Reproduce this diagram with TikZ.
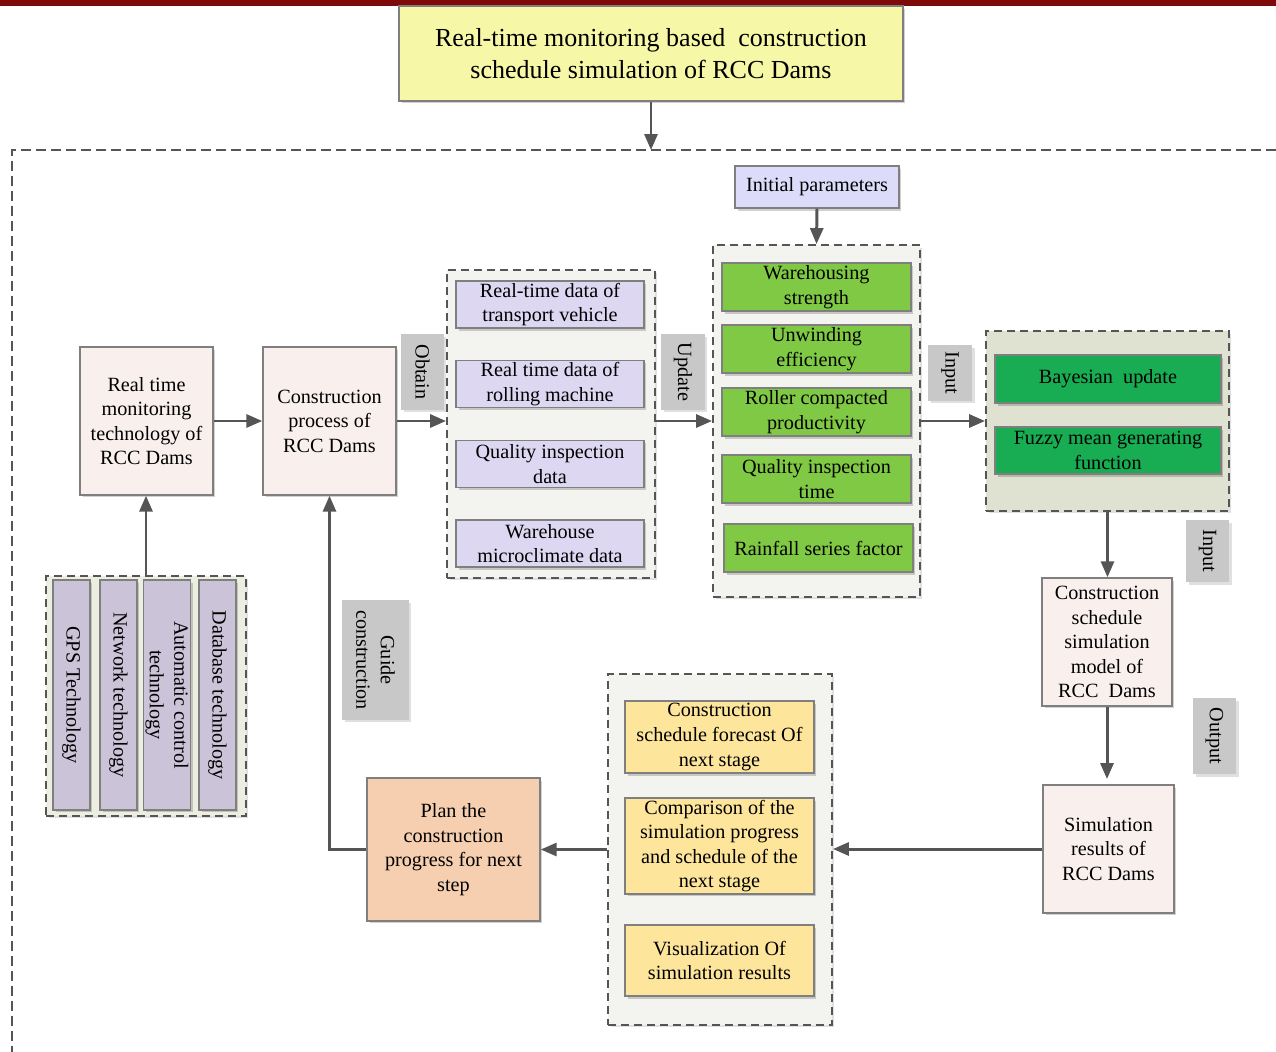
\documentclass[tikz,border=0pt]{standalone}
\usepackage{fontspec}
\setmainfont{Liberation Serif}
\usetikzlibrary{arrows.meta,shadows}
\definecolor{topred}{HTML}{7F0A0A}
\definecolor{boxline}{HTML}{7F7F7F}
\definecolor{arrowgray}{HTML}{555555}
\definecolor{titlefill}{HTML}{F7F7A8}
\definecolor{pinkfill}{HTML}{F9F0EE}
\definecolor{lavfill}{HTML}{DDD7F2}
\definecolor{barfill}{HTML}{CBC3D8}
\definecolor{grpfill}{HTML}{F3F3EF}
\definecolor{techgrpfill}{HTML}{ECEEE2}
\definecolor{baygrpfill}{HTML}{DFE2D0}
\definecolor{lgreen}{HTML}{80C944}
\definecolor{dgreen}{HTML}{18AD52}
\definecolor{yelfill}{HTML}{FDE59C}
\definecolor{peachfill}{HTML}{F6CFB0}
\definecolor{initfill}{HTML}{DCDCFA}
\definecolor{taggray}{HTML}{C8C8C8}

\begin{document}
\begin{tikzpicture}[x=0.02cm,y=-0.02cm,
  box/.style={draw=boxline, line width=0.8pt, align=center, inner sep=1pt,
    font=\fontsize{11.5}{14}\selectfont,
    drop shadow={shadow xshift=0.05cm, shadow yshift=-0.05cm, fill=black, opacity=0.18}},
  grp/.style={draw=arrowgray, dash pattern=on 0.16cm off 0.1cm, line width=1.1pt,
    drop shadow={shadow xshift=0.05cm, shadow yshift=-0.05cm, fill=black, opacity=0.12}},
  tag/.style={fill=taggray, rotate=-90, align=center, inner sep=1pt,
    font=\fontsize{11.5}{14}\selectfont,
    drop shadow={shadow xshift=0.05cm, shadow yshift=-0.05cm, fill=black, opacity=0.12}},
  arr/.style={draw=arrowgray, line width=1.7pt, -{Triangle[length=0.32cm,width=0.26cm]}}]
\useasboundingbox (0,0) rectangle (1276,1052);
\fill[topred] (0,0) rectangle (1276,6);
\draw[arrowgray, line width=0.9pt, dash pattern=on 0.2cm off 0.1cm] (1276,150) -- (12,150) -- (12,1052);
\coordinate (frametop) at (651,150);

\node[box, fill=titlefill, minimum width=10.08cm, minimum height=1.9cm, font=\fontsize{14.8}{18.5}\selectfont]
  (title) at (651,53.5) {Real-time monitoring based\ \ construction\\schedule simulation of RCC Dams};

\node[box, fill=pinkfill, minimum width=2.66cm, minimum height=2.96cm] (rtm) at (146.5,421)
  {Real time\\monitoring\\technology of\\RCC Dams};
\node[box, fill=pinkfill, minimum width=2.66cm, minimum height=2.96cm] (cproc) at (329.5,421)
  {Construction\\process of\\RCC Dams};
\node[tag, minimum width=1.52cm, minimum height=0.86cm] (obtain) at (422.5,372) {Obtain};

\node[grp, fill=techgrpfill, minimum width=4.0cm, minimum height=4.8cm] (techgrp) at (146,696) {};
\node[box, fill=barfill, rotate=-90, minimum width=4.6cm, minimum height=0.74cm] (gps) at (71.5,695) {GPS Technology};
\node[box, fill=barfill, rotate=-90, minimum width=4.6cm, minimum height=0.74cm] (net) at (118.5,695) {Network technology};
\node[box, fill=barfill, rotate=-90, minimum width=4.6cm, minimum height=0.84cm] (auto) at (167,695) {Automatic control\\technology};
\node[box, fill=barfill, rotate=-90, minimum width=4.6cm, minimum height=0.74cm] (dbase) at (217.5,695) {Database technology};

\node[grp, fill=grpfill, minimum width=4.16cm, minimum height=6.16cm] (datagrp) at (551,424) {};
\node[box, fill=lavfill, minimum width=3.76cm, minimum height=0.94cm] (vehicle) at (550,304.5) {Real-time data of\\transport vehicle};
\node[box, fill=lavfill, minimum width=3.76cm, minimum height=0.94cm] (roller) at (550,384) {Real time data of\\rolling machine};
\node[box, fill=lavfill, minimum width=3.76cm, minimum height=0.94cm] (qdata) at (550,464) {Quality inspection\\data};
\node[box, fill=lavfill, minimum width=3.76cm, minimum height=0.94cm] (micro) at (550,543.5) {Warehouse\\microclimate data};
\node[tag, minimum width=1.52cm, minimum height=0.88cm] (update) at (683,372) {Update};

\node[box, fill=initfill, minimum width=3.28cm, minimum height=0.84cm] (init) at (817,187) {Initial parameters};
\node[grp, fill=grpfill, minimum width=4.14cm, minimum height=7.04cm] (pargrp) at (816.5,421) {};
\node[box, fill=lgreen, minimum width=3.78cm, minimum height=0.96cm] (strength) at (816.5,287) {Warehousing\\strength};
\node[box, fill=lgreen, minimum width=3.78cm, minimum height=0.96cm] (unwind) at (816.5,349) {Unwinding\\efficiency};
\node[box, fill=lgreen, minimum width=3.78cm, minimum height=0.96cm] (product) at (816.5,412) {Roller compacted\\productivity};
\node[box, fill=lgreen, minimum width=3.78cm, minimum height=0.96cm] (qtime) at (816.5,479) {Quality inspection\\time};
\node[box, fill=lgreen, minimum width=3.78cm, minimum height=0.96cm] (rain) at (818.5,548) {Rainfall series factor};
\node[tag, minimum width=1.12cm, minimum height=0.88cm] (input) at (950,373) {Input};

\node[grp, fill=baygrpfill, minimum width=4.86cm, minimum height=3.6cm] (baygrp) at (1107.5,421) {};
\node[box, fill=dgreen, minimum width=4.52cm, minimum height=0.96cm] (bayes) at (1108,379) {Bayesian\ \ update};
\node[box, fill=dgreen, minimum width=4.52cm, minimum height=0.94cm] (fuzzy) at (1108,450.5) {Fuzzy mean generating\\function};
\node[tag, minimum width=1.24cm, minimum height=0.86cm] (input2) at (1207.5,551) {Input};

\node[box, fill=pinkfill, minimum width=2.6cm, minimum height=2.56cm] (model) at (1107,642)
  {Construction\\schedule\\simulation\\model of\\RCC\ \ Dams};
\node[tag, minimum width=1.52cm, minimum height=0.86cm] (output) at (1214.5,736) {Output};
\node[box, fill=pinkfill, minimum width=2.62cm, minimum height=2.56cm] (simres) at (1108.5,849)
  {Simulation\\results of\\RCC Dams};

\node[grp, fill=grpfill, minimum width=4.48cm, minimum height=7.02cm] (resgrp) at (720,849.5) {};
\node[box, fill=yelfill, minimum width=3.78cm, minimum height=1.44cm] (forecast) at (719.5,737)
  {Construction\\schedule forecast Of\\next stage};
\node[box, fill=yelfill, minimum width=3.78cm, minimum height=1.88cm] (compare) at (719.5,846)
  {Comparison of the\\simulation progress\\and schedule of the\\next stage};
\node[box, fill=yelfill, minimum width=3.78cm, minimum height=1.42cm] (visual) at (719.5,960.5)
  {Visualization Of\\simulation results};

\node[box, fill=peachfill, minimum width=3.46cm, minimum height=2.86cm] (plan) at (453.5,849.5)
  {Plan the\\construction\\progress for next\\step};
\node[tag, minimum width=2.4cm, minimum height=1.34cm] (guide) at (375.5,660) {Guide\\construction};

\draw[arr] (title.south) -- (frametop);
\draw[arr] (rtm.east) -- (cproc.west);
\draw[arr] (techgrp.north) -- (techgrp.north |- rtm.south);
\draw[arr] (cproc.east) -- (cproc.east -| datagrp.west);
\draw[arr] (datagrp.east |- pargrp.west) -- (pargrp.west);
\draw[arr] (init.south) -- (pargrp.north);
\draw[arr] (pargrp.east) -- (baygrp.west);
\draw[arr] (baygrp.south) -- (baygrp.south |- model.north);
\draw[arr, shorten >=3pt] (model.south) -- (model.south |- simres.north);
\draw[arr] (simres.west) -- (simres.west -| resgrp.east);
\draw[arr] (resgrp.west |- plan.east) -- (plan.east);
\draw[arr] (plan.west) -| (cproc.south);
\end{tikzpicture}
\end{document}
